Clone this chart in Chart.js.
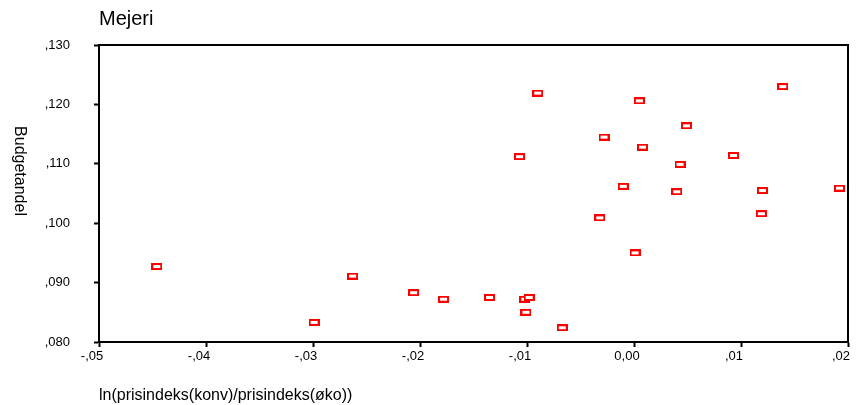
<!DOCTYPE html>
<html>
<head>
<meta charset="utf-8">
<title>Mejeri</title>
<script src="https://cdn.jsdelivr.net/npm/chart.js@4/dist/chart.umd.min.js"></script>
<style>
  html, body { margin: 0; padding: 0; background: #fff; }
  #chart { display: block; }
</style>
</head>
<body>
<canvas id="chart" width="864" height="405"></canvas>
<script>
  var chartTitle = 'Mejeri';
  var xTitle = 'ln(prisindeks(konv)/prisindeks(øko))';
  var yTitle = 'Budgetandel';

  // ln price ratio per observation
  var priceRatio = [-0.0446, -0.0299, -0.0263, -0.0206, -0.0178, -0.0135, -0.0102, -0.0098, -0.0101, -0.0067,
                    -0.0090, 0.0005, 0.0139, 0.0049, -0.0028, 0.0008, -0.0107, 0.0093, 0.0043, -0.0010,
                    0.0040, 0.0120, 0.0192, -0.0032, 0.0119, 0.0001];
  // budget share per observation
  var budgetShare = [0.0927, 0.0833, 0.0911, 0.0883, 0.0872, 0.0875, 0.0872, 0.0875, 0.0850, 0.0824,
                     0.1219, 0.1206, 0.1230, 0.1164, 0.1145, 0.1128, 0.1112, 0.1114, 0.1099, 0.1062,
                     0.1053, 0.1055, 0.1059, 0.1009, 0.1016, 0.0950];

  var xTickLabels = ['-,05', '-,04', '-,03', '-,02', '-,01', '0,00', ',01', ',02'];
  var yTickLabels = [',080', ',090', ',100', ',110', ',120', ',130'];

  var fontFamily = '"Liberation Sans", Arial, Helvetica, sans-serif';

  // small hollow red box used as marker
  function buildMarker() {
    var c = document.createElement('canvas');
    c.width = 11;
    c.height = 7;
    var g = c.getContext('2d');
    g.fillStyle = '#fff';
    g.fillRect(1, 1, 9, 5);
    g.strokeStyle = '#ff0000';
    g.lineWidth = 2;
    g.strokeRect(1, 1, 9, 5);
    return c;
  }

  function buildPoints() {
    var pts = [];
    for (var i = 0; i < priceRatio.length; i++) {
      pts.push({x: priceRatio[i], y: budgetShare[i]});
    }
    return pts;
  }

  // closes the frame on top/right and writes the vertical axis title
  var framePlugin = {
    id: 'frame',
    afterDraw: function(chart) {
      var ctx = chart.ctx;
      var a = chart.chartArea;
      ctx.save();
      ctx.strokeStyle = '#000';
      ctx.lineWidth = 2;
      ctx.beginPath();
      ctx.moveTo(a.left, a.top);
      ctx.lineTo(a.right, a.top);
      ctx.lineTo(a.right, a.bottom);
      ctx.stroke();

      ctx.translate(19, a.top + 126);
      ctx.rotate(Math.PI / 2);
      ctx.fillStyle = '#000';
      ctx.font = '16px ' + fontFamily;
      ctx.textAlign = 'center';
      ctx.textBaseline = 'middle';
      ctx.fillText(yTitle, 0, 0);
      ctx.restore();
    }
  };

  var ctx = document.getElementById('chart');
  var myScatter = new Chart(ctx, {
    type: 'scatter',
    data: {
      datasets: [{
        data: buildPoints(),
        pointStyle: buildMarker(),
        pointRadius: 5,
        pointHoverRadius: 5
      }]
    },
    options: {
      responsive: false,
      animation: false,
      devicePixelRatio: 1,
      layout: {padding: {left: 0, right: 16, top: 0, bottom: 0}},
      plugins: {
        legend: {display: false},
        tooltip: {enabled: false},
        title: {
          display: true,
          text: chartTitle,
          align: 'start',
          fullSize: false,
          color: '#000',
          font: {family: fontFamily, size: 20, weight: 'normal'},
          padding: {top: 7, bottom: 14}
        }
      },
      scales: {
        x: {
          type: 'linear',
          min: -0.05,
          max: 0.02,
          afterFit: function(scale) { scale.height = 63; },
          border: {display: true, color: '#000', width: 2},
          grid: {drawOnChartArea: false, drawTicks: true, tickLength: 5, tickWidth: 2, tickColor: '#000'},
          ticks: {
            stepSize: 0.01,
            color: '#000',
            padding: 2,
            labelOffset: -7,
            maxRotation: 0,
            font: {family: fontFamily, size: 13},
            callback: function(v, i) { return xTickLabels[i]; }
          },
          title: {
            display: true,
            text: xTitle,
            align: 'start',
            color: '#000',
            font: {family: fontFamily, size: 16},
            padding: {top: 0, bottom: 0}
          }
        },
        y: {
          type: 'linear',
          min: 0.08,
          max: 0.13,
          afterFit: function(scale) { scale.width = 99; },
          border: {display: true, color: '#000', width: 2},
          grid: {drawOnChartArea: false, drawTicks: true, tickLength: 5, tickWidth: 2, tickColor: '#000'},
          ticks: {
            stepSize: 0.01,
            color: '#000',
            padding: 24,
            font: {family: fontFamily, size: 13},
            callback: function(v, i) { return yTickLabels[i]; }
          }
        }
      }
    },
    plugins: [framePlugin]
  });
</script>
</body>
</html>
